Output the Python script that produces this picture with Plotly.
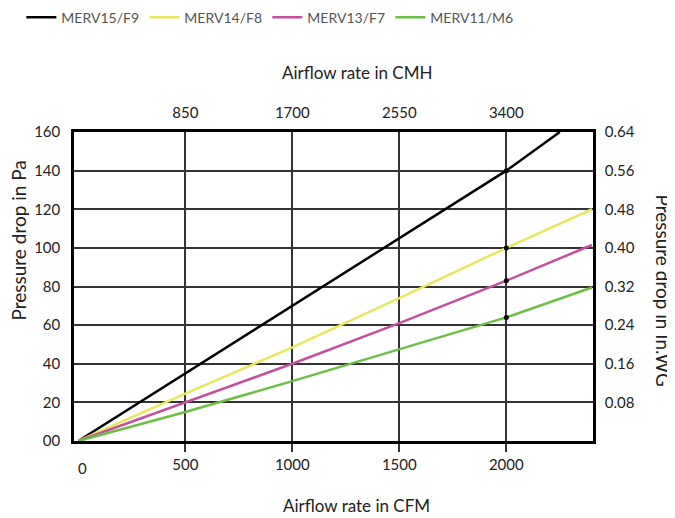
import plotly.graph_objects as go

# Data (airflow in CFM, pressure drop in Pa)
cfm_15 = [0, 500, 1000, 1500, 2000, 2250]
merv15 = [0, 35, 70, 105, 140, 160]
cfm_all = [0, 500, 1000, 1500, 2000, 2400]
merv14 = [0, 24.5, 48.5, 74, 100, 120]
merv13 = [0, 20, 40, 61, 83, 101.5]
merv11 = [0, 15, 31, 47.5, 64, 79.5]

series_names = ["MERV15/F9", "MERV14/F8", "MERV13/F7", "MERV11/M6"]
colors = ["#000000", "#e8e85e", "#c44f9e", "#6cbf45"]

cfm_ticks = [500, 1000, 1500, 2000]
cmh_ticks = [850, 1700, 2550, 3400]
pa_ticks = [0, 20, 40, 60, 80, 100, 120, 140, 160]
pa_labels = ["00", "20", "40", "60", "80", "100", "120", "140", "160"]
inwg_ticks = [0.08, 0.16, 0.24, 0.32, 0.40, 0.48, 0.56, 0.64]
inwg_labels = ["0.08", "0.16", "0.24", "0.32", "0.40", "0.48", "0.56", "0.64"]

marker_cfm = 2000

FONT = "Lato"
TXT = "#222222"
xr = [-20, 2405]

fig = go.Figure()
xs = [cfm_15, cfm_all, cfm_all, cfm_all]
ys = [merv15, merv14, merv13, merv11]
for name, c, x, y in zip(series_names, colors, xs, ys):
    fig.add_trace(go.Scatter(x=x, y=y, mode="lines", name=name,
                             line=dict(color=c, width=2.5)))

# markers at 2000 CFM
mx, my = [], []
for x, y in zip(xs, ys):
    i = x.index(marker_cfm)
    mx.append(x[i]); my.append(y[i])
fig.add_trace(go.Scatter(x=mx, y=my, mode="markers", showlegend=False,
                         marker=dict(color="black", size=5)))

# invisible traces for secondary axes
fig.add_trace(go.Scatter(x=[cmh_ticks[0]], y=[0], xaxis="x2", yaxis="y",
                         mode="markers", marker=dict(opacity=0), showlegend=False, hoverinfo="skip"))
fig.add_trace(go.Scatter(x=[0], y=[0.08], xaxis="x", yaxis="y2",
                         mode="markers", marker=dict(opacity=0), showlegend=False, hoverinfo="skip"))

# the page body has an 8px margin, so the figure is sized to fit the window
fig.update_layout(
    width=667, height=510,
    margin=dict(l=66, r=82, t=124, b=77, autoexpand=False),
    paper_bgcolor="white", plot_bgcolor="white",
    font=dict(family=FONT, size=15, color=TXT),
    showlegend=True,
    legend=dict(orientation="h", xref="container", yref="container",
                x=0.02, y=0.981, xanchor="left", yanchor="middle",
                entrywidth=78, entrywidthmode="pixels",
                font=dict(size=14, color="#555555"), itemwidth=30,
                tracegroupgap=0),
    xaxis=dict(range=xr, tickvals=cfm_ticks, showgrid=True, gridcolor="#333333", gridwidth=1.5,
               ticks="outside", ticklen=8, tickwidth=1.5, tickcolor="#333333",
               showline=True, linecolor="black", linewidth=2.5, zeroline=False, automargin=False,
               ticklabelstandoff=0, tickfont=dict(size=15, color=TXT)),
    xaxis2=dict(range=[v * 1.7 for v in xr], tickvals=cmh_ticks, overlaying="x", side="top",
                anchor="y", showgrid=False, showline=True, linecolor="black", linewidth=2.5,
                zeroline=False, ticks="", ticklabelstandoff=5, automargin=False,
                tickfont=dict(size=15, color=TXT)),
    yaxis=dict(range=[0, 160], tickvals=pa_ticks, ticktext=pa_labels, showgrid=True,
               gridcolor="#333333", gridwidth=1.5, showline=True, linecolor="black", linewidth=2.5,
               zeroline=False, ticks="", ticklabelstandoff=8, automargin=False,
               tickfont=dict(size=15, color=TXT)),
    yaxis2=dict(range=[0, 0.64], tickvals=inwg_ticks, ticktext=inwg_labels, overlaying="y",
                side="right", anchor="x", showgrid=False, showline=True, linecolor="black",
                linewidth=2.5, zeroline=False, ticks="", ticklabelstandoff=6, automargin=False,
                tickfont=dict(size=15, color=TXT)),
)

ann = dict(showarrow=False, font=dict(family=FONT, size=17, color=TXT))
vann = dict(showarrow=False, font=dict(family=FONT, size=19, color=TXT))
fig.add_annotation(text="Airflow rate in CMH", xref="paper", yref="paper", x=0.545, y=1.0,
                   yshift=60, xanchor="center", yanchor="middle", **ann)
fig.add_annotation(text="Airflow rate in CFM", xref="paper", yref="paper", x=0.545, y=0.0,
                   yshift=-64, xanchor="center", yanchor="middle", **ann)
fig.add_annotation(text="Pressure drop in Pa", xref="paper", yref="paper", x=0.0, y=0.5,
                   xshift=-56, yshift=46, textangle=-90, xanchor="center", yanchor="middle", **vann)
fig.add_annotation(text="Pressure drop in In.WG", xref="paper", yref="paper", x=1.0, y=0.5,
                   xshift=70, yshift=-4, textangle=90, xanchor="center", yanchor="middle", **vann)
fig.add_annotation(text="0", xref="x", yref="paper", x=20, y=0.0, yshift=-27,
                   xanchor="center", yanchor="middle", showarrow=False,
                   font=dict(family=FONT, size=15, color=TXT))

fig.write_html("out.html")
